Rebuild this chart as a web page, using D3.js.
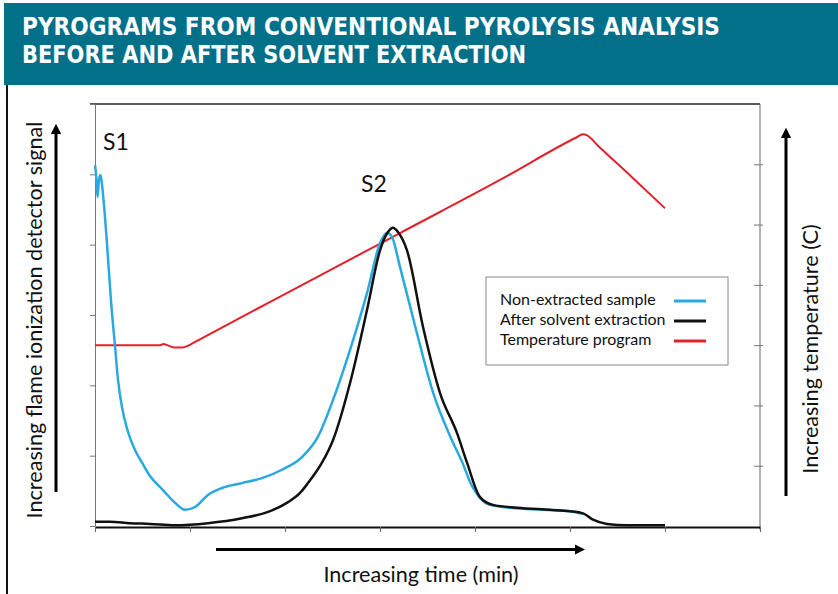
<!DOCTYPE html>
<html>
<head>
<meta charset="utf-8">
<script src="https://cdn.jsdelivr.net/npm/d3@7"></script>
<style>
  body { margin: 0; background: #fff; }
  svg { display: block; }
</style>
</head>
<body>
<svg id="chart" width="838" height="594"></svg>
<script>
// time (axis units) / FID signal (relative units)
var nonExtracted = [
  [0, 5.13], [0.016, 4.92], [0.026, 4.68], [0.042, 4.92], [0.058, 4.99], [0.074, 4.85],
  [0.095, 4.56], [0.126, 4.02], [0.168, 3.21], [0.211, 2.55], [0.242, 2.08], [0.284, 1.69],
  [0.347, 1.34], [0.421, 1.08], [0.495, 0.90], [0.579, 0.71], [0.716, 0.51], [0.842, 0.33],
  [0.947, 0.23], [1.053, 0.27], [1.189, 0.44], [1.337, 0.54], [1.547, 0.61], [1.758, 0.68],
  [1.968, 0.80], [2.179, 0.98], [2.347, 1.27], [2.505, 1.79], [2.684, 2.50], [2.863, 3.31],
  [3.0, 4.02], [3.074, 4.17], [3.126, 4.11], [3.211, 3.68], [3.389, 2.74], [3.558, 1.90],
  [3.737, 1.28], [3.874, 0.88], [3.947, 0.63], [4.053, 0.40], [4.158, 0.30], [4.368, 0.26],
  [4.716, 0.23], [5.0, 0.21], [5.137, 0.17]
];
var afterExtraction = [
  [0, 0.06], [0.158, 0.06], [0.368, 0.04], [0.579, 0.03], [0.842, 0.01], [1.189, 0.04],
  [1.547, 0.11], [1.821, 0.20], [2.032, 0.34], [2.158, 0.47], [2.242, 0.61], [2.389, 0.90],
  [2.505, 1.22], [2.684, 2.03], [2.863, 3.07], [3.0, 3.92], [3.084, 4.18], [3.137, 4.24],
  [3.189, 4.18], [3.284, 3.92], [3.453, 2.83], [3.632, 1.89], [3.811, 1.32], [3.916, 0.90],
  [4.053, 0.41], [4.189, 0.30], [4.442, 0.26], [4.789, 0.23], [5.0, 0.21], [5.137, 0.18],
  [5.242, 0.09], [5.389, 0.03], [5.6, 0.01], [6.0, 0.01]
];
// time / oven temperature (C)
var tempProgram = [
  [0, 300], [0.684, 300], [0.72, 302], [0.76, 300], [0.84, 296], [0.92, 296],
  [0.98, 299], [1.05, 305], [2.158, 398], [3.211, 486], [4.263, 574], [5.06, 644],
  [5.137, 650], [5.18, 648], [5.3, 630], [5.65, 579], [6.0, 527]
];
var seriesNames = ["Non-extracted sample", "After solvent extraction", "Temperature program"];
var seriesColors = ["#2aa8e0", "#111111", "#e3202b"];
var titleLines = ["PYROGRAMS FROM CONVENTIONAL PYROLYSIS ANALYSIS", "BEFORE AND AFTER SOLVENT EXTRACTION"];

var svg = d3.select("#chart");
var font = "Lato, 'Open Sans', sans-serif";

var x = d3.scaleLinear().domain([0, 7]).range([95, 760]);
var ySig = d3.scaleLinear().domain([0, 6]).range([526, 104]);
var yTemp = d3.scaleLinear().domain([0, 700]).range([526, 104]);

// header band
svg.append("rect").attr("x", 4).attr("y", 3).attr("width", 834).attr("height", 82).attr("fill", "#03708a");
svg.selectAll(".title").data(titleLines).enter().append("text")
    .attr("x", 22)
    .attr("y", function(d, i){ return 35 + i * 28; })
    .attr("fill", "#fff")
    .attr("font-family", "'Liberation Sans Narrow', 'DejaVu Sans Condensed', sans-serif")
    .attr("font-weight", "bold")
    .attr("font-size", 25)
    .attr("textLength", function(d, i){ return i == 0 ? 698 : 504; })
    .attr("lengthAdjust", "spacingAndGlyphs")
    .text(function(d){ return d; });

// page border on the left
svg.append("line").attr("x1", 7).attr("x2", 7).attr("y1", 85).attr("y2", 594)
    .attr("stroke", "#111").attr("stroke-width", 2);

// frame
svg.append("line").attr("x1", 90).attr("x2", 760).attr("y1", 104).attr("y2", 104)
    .attr("stroke", "#222").attr("stroke-width", 1.5);
svg.append("line").attr("x1", 760).attr("x2", 760).attr("y1", 104).attr("y2", 530)
    .attr("stroke", "#666").attr("stroke-width", 1);

var gl = svg.append("g").attr("transform", "translate(95,0)")
    .call(d3.axisLeft(ySig).ticks(6).tickSize(5).tickFormat("").tickSizeOuter(0));
gl.select(".domain").attr("stroke", "#777");
gl.selectAll(".tick line").attr("stroke", "#777");

var gr = svg.append("g").attr("transform", "translate(754,0)")
    .call(d3.axisRight(yTemp).ticks(7).tickSize(9).tickFormat("").tickSizeOuter(0));
gr.select(".domain").remove();
gr.selectAll(".tick line").attr("stroke", "#777");
gr.selectAll(".tick").filter(function(d){ return d == 0 || d == 700; }).remove();

var gb = svg.append("g").attr("transform", "translate(0,527)")
    .call(d3.axisBottom(x).ticks(7).tickSize(5).tickFormat("").tickSizeOuter(0));
gb.select(".domain").attr("stroke", "#111").attr("stroke-width", 2);
gb.selectAll(".tick line").attr("stroke", "#666");

// curves
var sigLine = d3.line().x(function(d){ return x(d[0]); }).y(function(d){ return ySig(d[1]); })
    .curve(d3.curveMonotoneX);
var tempLine = d3.line().x(function(d){ return x(d[0]); }).y(function(d){ return yTemp(d[1]); })
    .curve(d3.curveMonotoneX);

svg.append("path").datum(tempProgram).attr("d", tempLine)
    .attr("fill", "none").attr("stroke", seriesColors[2]).attr("stroke-width", 2);
svg.append("path").datum(nonExtracted).attr("d", sigLine)
    .attr("fill", "none").attr("stroke", seriesColors[0]).attr("stroke-width", 2.5);
svg.append("path").datum(afterExtraction).attr("d", sigLine)
    .attr("fill", "none").attr("stroke", seriesColors[1]).attr("stroke-width", 2.5);

// peak labels
svg.append("text").attr("x", 103).attr("y", 150).attr("font-family", font).attr("font-size", 23)
    .attr("fill", "#111").text("S1");
svg.append("text").attr("x", 361).attr("y", 192).attr("font-family", font).attr("font-size", 23)
    .attr("fill", "#111").text("S2");

// legend
svg.append("rect").attr("x", 486).attr("y", 277).attr("width", 242).attr("height", 88)
    .attr("fill", "#fff").attr("stroke", "#888").attr("stroke-width", 1);
var leg = svg.selectAll(".leg").data(seriesNames).enter().append("g")
    .attr("transform", function(d, i){ return "translate(0," + (305 + i * 20) + ")"; });
leg.append("text").attr("x", 500).attr("y", 0).attr("font-family", font).attr("font-size", 16)
    .attr("fill", "#111").text(function(d){ return d; });
leg.append("line").attr("x1", 674).attr("x2", 706).attr("y1", -4).attr("y2", -4)
    .attr("stroke-width", 3).attr("stroke", function(d, i){ return seriesColors[i]; });

// axis arrows and titles
var defs = svg.append("defs");
defs.append("marker").attr("id", "head").attr("viewBox", "0 0 10 10")
    .attr("refX", 0).attr("refY", 5).attr("markerWidth", 3.4).attr("markerHeight", 3.4)
    .attr("orient", "auto").attr("markerUnits", "strokeWidth")
    .append("path").attr("d", "M0,0L10,5L0,10z").attr("fill", "#000");

svg.append("line").attr("x1", 56).attr("y1", 492).attr("x2", 56).attr("y2", 134)
    .attr("stroke", "#000").attr("stroke-width", 3).attr("marker-end", "url(#head)");
svg.append("line").attr("x1", 786).attr("y1", 496).attr("x2", 786).attr("y2", 138)
    .attr("stroke", "#000").attr("stroke-width", 3).attr("marker-end", "url(#head)");
svg.append("line").attr("x1", 216).attr("y1", 549.5).attr("x2", 575).attr("y2", 549.5)
    .attr("stroke", "#000").attr("stroke-width", 3).attr("marker-end", "url(#head)");

svg.append("text").attr("transform", "translate(42,320) rotate(-90)")
    .attr("text-anchor", "middle").attr("font-family", font).attr("font-size", 21.6)
    .attr("fill", "#111").text("Increasing flame ionization detector signal");
svg.append("text").attr("transform", "translate(818,349) rotate(-90)")
    .attr("text-anchor", "middle").attr("font-family", font).attr("font-size", 21.6)
    .attr("fill", "#111").text("Increasing temperature (C)");
svg.append("text").attr("x", 421).attr("y", 582)
    .attr("text-anchor", "middle").attr("font-family", font).attr("font-size", 21.6)
    .attr("fill", "#111").text("Increasing time (min)");
</script>
</body>
</html>
